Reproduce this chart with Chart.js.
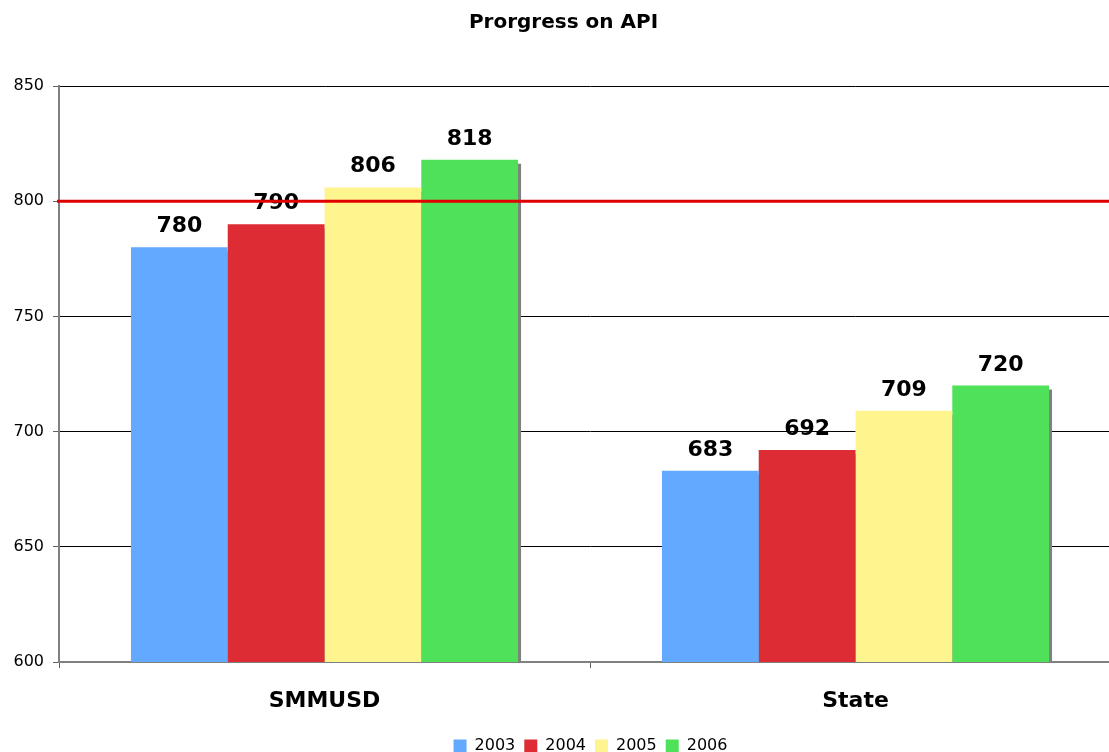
<!DOCTYPE html>
<html>
<head>
<meta charset="utf-8">
<script src="https://cdn.jsdelivr.net/npm/chart.js@4/dist/chart.umd.min.js"></script>
<style>
  html, body { margin: 0; padding: 0; background: #fff; overflow: hidden; }
  #wrap { width: 1109px; height: 752px; overflow: hidden; }
  #inner { width: 1121px; height: 752px; position: relative; }
</style>
</head>
<body>
<div id="wrap"><div id="inner"><canvas id="myChart"></canvas></div></div>
<script>
// chart data
var categories = ["SMMUSD", "State"];
var years = ["2003", "2004", "2005", "2006"];
var values2003 = [780, 683];
var values2004 = [790, 692];
var values2005 = [806, 709];
var values2006 = [818, 720];
var colors = ["#63a9ff", "#dd2c33", "#fff58f", "#4fe159"];
var targetLine = 800;
var yTicks = [600, 650, 700, 750, 800, 850];

var font = "'DejaVu Sans', Verdana, sans-serif";

// grey drop shadow behind each bar
var shadowPlugin = {
  id: "shadow",
  beforeDatasetsDraw: function(chart) {
    var ctx = chart.ctx;
    var bottom = chart.chartArea.bottom;
    ctx.save();
    ctx.fillStyle = "#808080";
    chart.data.datasets.forEach(function(ds, i) {
      chart.getDatasetMeta(i).data.forEach(function(bar) {
        var w = bar.width;
        ctx.fillRect(bar.x - w / 2 + 3, bar.y + 4, w, bottom - bar.y - 4);
      });
    });
    ctx.restore();
  }
};

// value labels above bars, then the red 800 line on top
var labelPlugin = {
  id: "labels",
  afterDatasetsDraw: function(chart) {
    var ctx = chart.ctx;
    ctx.save();
    ctx.font = "bold 22px " + font;
    ctx.fillStyle = "#000";
    ctx.textAlign = "center";
    ctx.textBaseline = "alphabetic";
    chart.data.datasets.forEach(function(ds, i) {
      chart.getDatasetMeta(i).data.forEach(function(bar, j) {
        ctx.fillText(ds.data[j], bar.x, bar.y - 15);
      });
    });
    var y = chart.scales.y.getPixelForValue(targetLine);
    var area = chart.chartArea;
    ctx.strokeStyle = "#e00000";
    ctx.lineWidth = 3;
    ctx.beginPath();
    ctx.moveTo(area.left - 2, y);
    ctx.lineTo(area.right, y);
    ctx.stroke();
    ctx.restore();
  }
};

// the legend and title sit right of the canvas centre, legend low on the page
var legendShift = {
  id: "legendShift",
  afterLayout: function(chart) {
    chart.legend.left += 30;
    chart.legend.right += 30;
    chart.legend.top += 12;
    chart.legend.bottom += 12;
    chart.titleBlock.left += 3;
    chart.titleBlock.right += 3;
  }
};

var datasets = [values2003, values2004, values2005, values2006].map(function(v, i) {
  return {
    label: years[i],
    data: v,
    backgroundColor: colors[i],
    borderWidth: 0,
    categoryPercentage: 0.729,
    barPercentage: 1.0
  };
});

new Chart("myChart", {
  type: "bar",
  data: { labels: categories, datasets: datasets },
  plugins: [shadowPlugin, labelPlugin, legendShift],
  options: {
    responsive: true,
    maintainAspectRatio: false,
    animation: false,
    layout: { padding: { left: 0, right: 0, top: 0, bottom: 0 } },
    plugins: {
      title: {
        display: true,
        text: "Prorgress on API",
        color: "#000",
        font: { family: font, size: 20, weight: "bold" },
        padding: { top: 11, bottom: 51 }
      },
      legend: {
        position: "bottom",
        labels: {
          color: "#000",
          boxWidth: 13,
          boxHeight: 13,
          padding: 9,
          font: { family: font, size: 16 }
        }
      },
      tooltip: { enabled: false }
    },
    scales: {
      x: {
        offset: true,
        grid: {
          offset: true,
          drawOnChartArea: false,
          drawTicks: true,
          tickLength: 6,
          color: "#606060"
        },
        border: { color: "#808080", width: 2 },
        ticks: {
          color: "#000",
          padding: 20,
          font: { family: font, size: 22, weight: "bold" }
        },
        afterFit: function(scale) { scale.height = 55; }
      },
      y: {
        min: 600,
        max: 850,
        afterBuildTicks: function(scale) {
          scale.ticks = yTicks.map(function(v) { return { value: v }; });
        },
        grid: {
          color: function(c) { return c.tick && c.tick.value === 600 ? "rgba(0,0,0,0)" : "#000"; },
          tickColor: "#606060",
          tickLength: 6,
          lineWidth: 1
        },
        border: { color: "#808080", width: 2 },
        ticks: {
          color: "#000",
          padding: 9,
          font: { family: font, size: 16 }
        },
        afterFit: function(scale) { scale.width = 59; }
      }
    }
  }
});
</script>
</body>
</html>
